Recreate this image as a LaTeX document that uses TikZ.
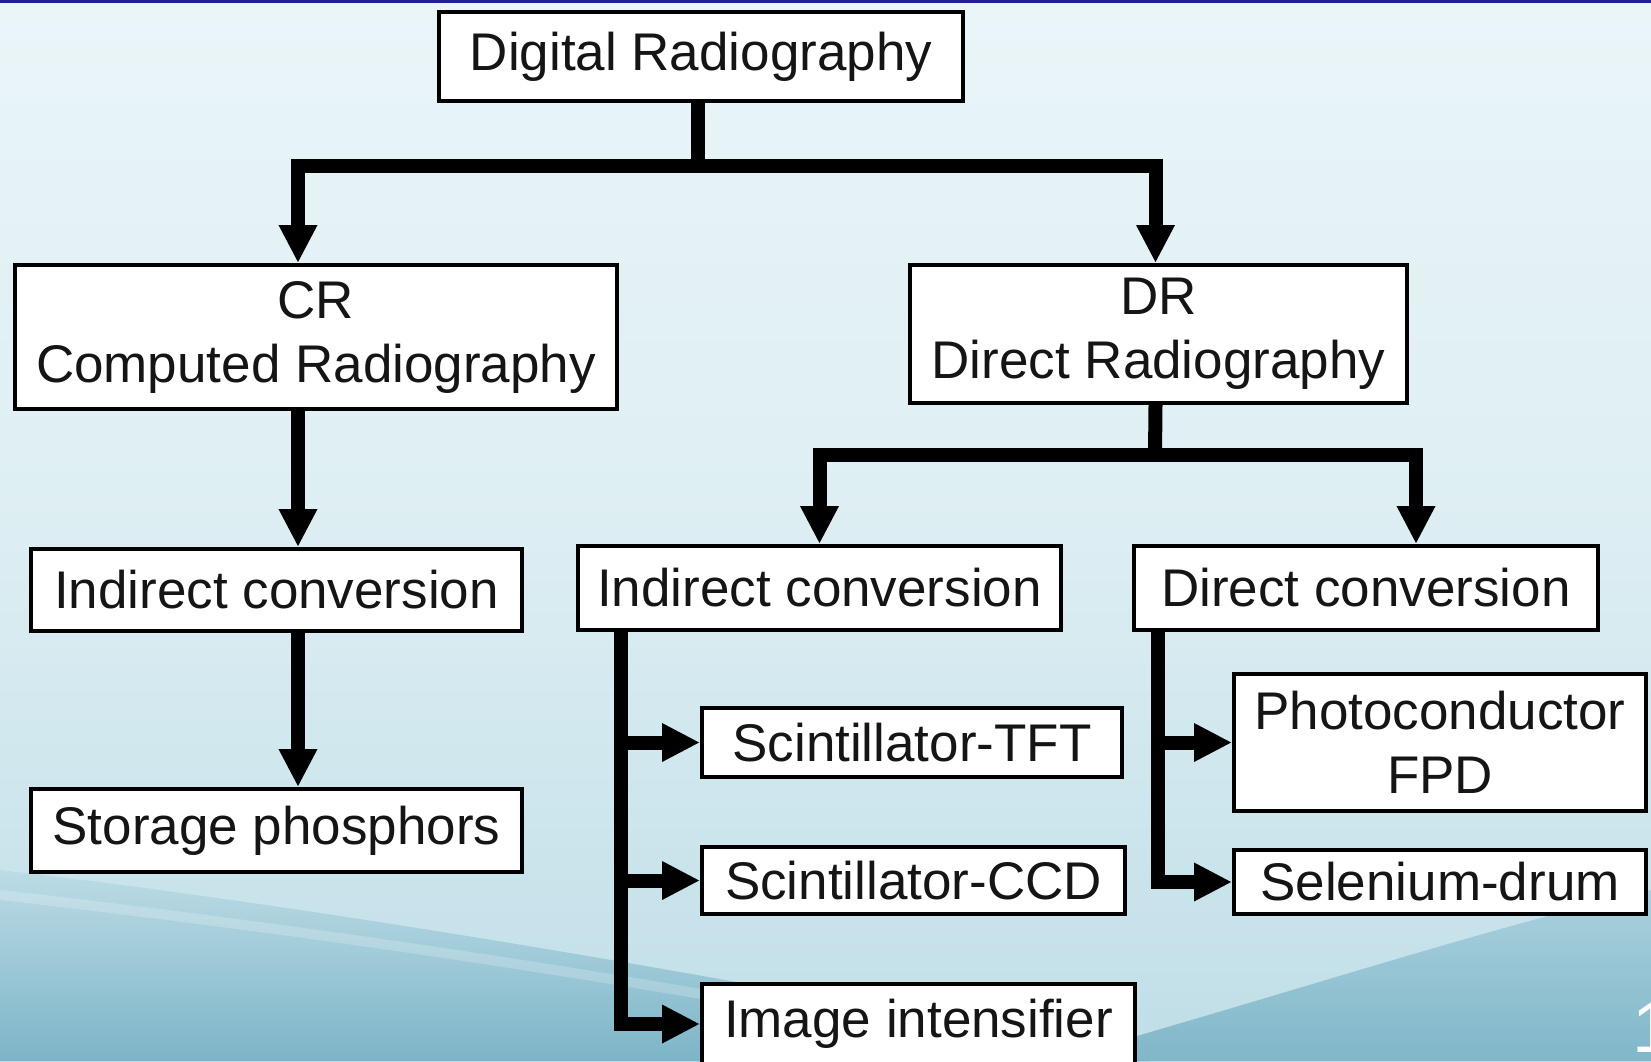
\documentclass[tikz,border=0pt]{standalone}
\usepackage{fontspec}
\setmainfont{Liberation Sans}
\usetikzlibrary{arrows.meta,calc}
\definecolor{bgtop}{HTML}{F7FCFD}
\definecolor{bgmid}{HTML}{DDEEF3}
\definecolor{bgmid2}{HTML}{BCDCE6}
\definecolor{bgbot}{HTML}{9CC9D6}
\definecolor{teal}{HTML}{79B3C6}
\definecolor{topbar}{HTML}{20208C}
\definecolor{txt}{HTML}{151515}
\pgfdeclareverticalshading{bgshade}{100bp}{color(0bp)=(bgbot); color(22bp)=(bgmid2); color(50bp)=(bgmid); color(100bp)=(bgtop)}
\begin{document}
\begin{tikzpicture}[x=1pt,y=-1pt,
  box/.style={draw=black, line width=4pt, fill=white, inner sep=0pt, align=center,
    text=txt, font=\fontsize{53}{64}\selectfont},
  conn/.style={draw=black, line width=14pt},
  tip/.style={-{Triangle[length=38pt,width=36pt]}}]
\useasboundingbox (0,0) rectangle (1651,1061);
% background
\shade[shading=bgshade] (0,0) rectangle (1651,1061);
\shade[top color=bgmid2, bottom color=teal, opacity=0.95] (0,870) .. controls (350,910) and (800,990) .. (1150,1061) -- (0,1061) -- cycle;
\shade[top color=bgmid2!70!teal, bottom color=teal, opacity=0.9] (1050,1061) .. controls (1300,990) and (1480,930) .. (1651,890) -- (1651,1061) -- cycle;
\draw[white, opacity=0.2, line width=10pt] (0,895) .. controls (400,940) and (800,1005) .. (1150,1080);
\fill[topbar] (0,0) rectangle (1651,3);
% boxes
\node[box, minimum width=524pt, minimum height=89pt] (dig) at (701,56.5) {Digital Radiography};
\node[box, minimum width=602pt, minimum height=144pt] (cr) at (316,337) {CR\\Computed Radiography};
\node[box, minimum width=497pt, minimum height=138pt] (dr) at (1158.5,334) {DR\\Direct Radiography};
\node[box, minimum width=491pt, minimum height=82pt] (ci) at (276.5,590) {Indirect conversion};
\node[box, minimum width=491pt, minimum height=83pt] (sp) at (276.5,830.5) {Storage phosphors};
\node[box, minimum width=483pt, minimum height=84pt] (di) at (819.5,588) {Indirect conversion};
\node[box, minimum width=464pt, minimum height=84pt] (dc) at (1366,588) {Direct conversion};
\node[box, minimum width=420pt, minimum height=69pt] (tft) at (912,742.5) {Scintillator-TFT};
\node[box, minimum width=423pt, minimum height=67pt] (ccd) at (913.5,880.5) {Scintillator-CCD};
\node[box, minimum width=433pt, minimum height=80pt] (ii) at (918.5,1024) {Image intensifier};
\node[box, minimum width=412pt, minimum height=137pt] (pc) at (1440,742.5) {Photoconductor\\FPD};
\node[box, minimum width=412pt, minimum height=64pt] (se) at (1440,882) {Selenium-drum};
\node[text=white, inner sep=0pt, anchor=north west, font=\fontsize{72}{72}\selectfont] (pg) at (1632,1003) {1};
% connectors
\coordinate (bar1) at (698,166);
\draw[conn] ([xshift=-3pt]dig.south) -- (bar1);
\draw[conn,tip] (bar1) -| ([xshift=-18pt]cr.north);
\draw[conn,tip] (bar1) -| ([xshift=-3pt]dr.north);
\draw[conn,tip] ([xshift=-18pt]cr.south) -- ([xshift=-18pt]cr.south |- ci.north);
\draw[conn,tip] ([xshift=21.5pt]ci.south) -- ([xshift=21.5pt]ci.south |- sp.north);
\coordinate (bar2) at (1155,455);
\draw[conn] ([xshift=-3pt]dr.south) -- (bar2);
\draw[conn,tip] (bar2) -| (di.north);
\draw[conn,tip] (bar2) -| ([xshift=50pt]dc.north);
\coordinate (ditr) at ([xshift=45pt]di.south west);
\draw[conn,tip] (ditr) |- (ii.west);
\draw[conn,tip] (ditr |- tft.west) -- (tft.west);
\draw[conn,tip] (ditr |- ccd.west) -- (ccd.west);
\coordinate (dctr) at ([xshift=26pt]dc.south west);
\draw[conn,tip] (dctr) |- (se.west);
\draw[conn,tip] (dctr |- pc.west) -- (pc.west);
\end{tikzpicture}
\end{document}
